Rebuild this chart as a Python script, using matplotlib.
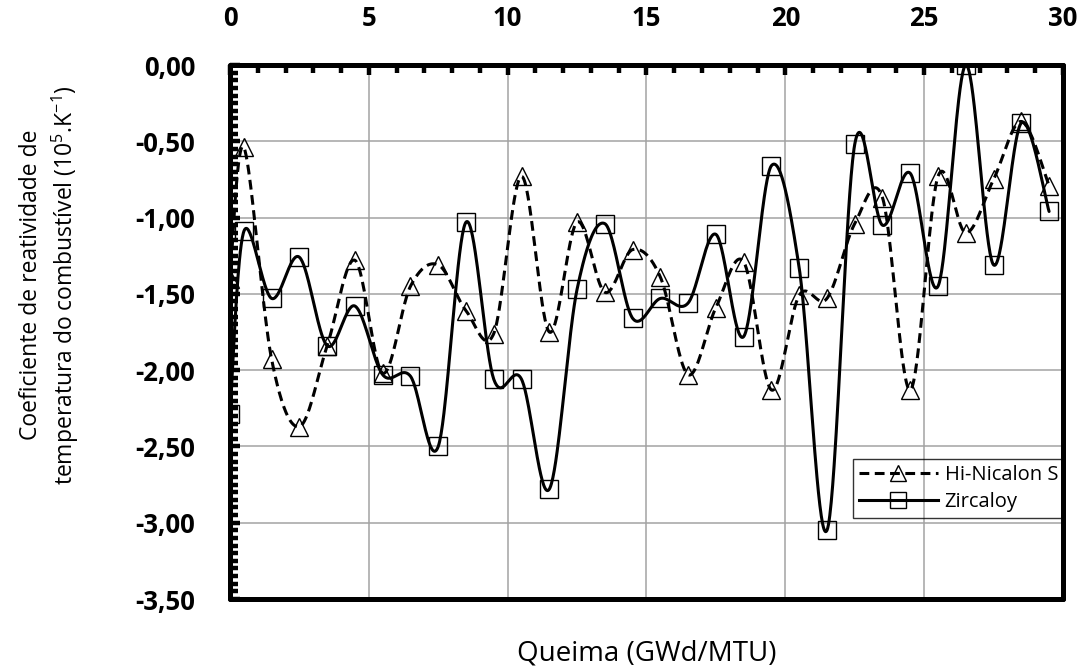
import matplotlib
matplotlib.use('Agg')
import matplotlib.pyplot as plt
import numpy as np
from matplotlib.lines import Line2D
from matplotlib.ticker import MultipleLocator, FuncFormatter

plt.rcParams['font.family'] = ['Open Sans', 'DejaVu Sans']
plt.rcParams['mathtext.fontset'] = 'custom'
plt.rcParams['mathtext.rm'] = 'Open Sans'

# queima (GWd/MTU) e coeficiente de reatividade (1e-5/K)
queima = [0, 0.5, 1.5, 2.5, 3.5, 4.5, 5.5, 6.5, 7.5, 8.5, 9.5, 10.5, 11.5,
          12.5, 13.5, 14.5, 15.5, 16.5, 17.5, 18.5, 19.5, 20.5, 21.5, 22.5,
          23.5, 24.5, 25.5, 26.5, 27.5, 28.5, 29.5]
hi_nicalon = [-1.40, -0.54, -1.93, -2.37, -1.84, -1.28, -2.02, -1.45, -1.31,
              -1.61, -1.76, -0.73, -1.75, -1.03, -1.49, -1.21, -1.39, -2.03,
              -1.59, -1.29, -2.13, -1.51, -1.53, -1.04, -0.87, -2.13, -0.73,
              -1.10, -0.75, -0.37, -0.79]
zircaloy = [-2.29, -1.09, -1.53, -1.26, -1.84, -1.58, -2.03, -2.04, -2.50,
            -1.03, -2.06, -2.06, -2.78, -1.47, -1.04, -1.66, -1.53, -1.56,
            -1.11, -1.78, -0.66, -1.33, -3.05, -0.52, -1.05, -0.71, -1.45,
            0.00, -1.31, -0.38, -0.96]
series_names = ['Hi-Nicalon S', 'Zircaloy']


def smooth(x, y, n=40):
    # bezier por segmento, pontos de controle a 1/6 dos vizinhos (estilo Excel)
    p = np.column_stack([x, y]).astype(float)
    out = []
    t = np.linspace(0, 1, n)[:, None]
    for i in range(len(p) - 1):
        p0 = p[i - 1] if i > 0 else p[i]
        p1, p2 = p[i], p[i + 1]
        p3 = p[i + 2] if i + 2 < len(p) else p[i + 1]
        c1 = p1 + (p2 - p0) / 6
        c2 = p2 - (p3 - p1) / 6
        b = ((1 - t) ** 3) * p1 + 3 * ((1 - t) ** 2) * t * c1 \
            + 3 * (1 - t) * t ** 2 * c2 + t ** 3 * p2
        out.append(b if i == 0 else b[1:])
    b = np.vstack(out)
    return b[:, 0], b[:, 1]


fig = plt.figure(figsize=(10.89, 6.66), dpi=100)
ax = fig.add_axes([0.2112, 0.1006, 0.7649, 0.8018])

lw = 2.2
ms = 12.5
sx, sy = smooth(queima, zircaloy)
ax.plot(sx, sy, color='black', lw=lw, solid_capstyle='round', zorder=3)
ax.plot(queima, zircaloy, ls='none', marker='s', ms=ms, mfc='none',
        mec='black', mew=1.0, zorder=4)

sx, sy = smooth(queima, hi_nicalon)
ax.plot(sx, sy, color='black', lw=lw, dashes=(3.2, 1.8), zorder=3)
ax.plot(queima, hi_nicalon, ls='none', marker='^', ms=ms, mfc='none',
        mec='black', mew=1.0, zorder=4)

ax.set_xlim(0, 30)
ax.set_ylim(-3.5, 0)
ax.xaxis.set_major_locator(MultipleLocator(5))
ax.xaxis.set_minor_locator(MultipleLocator(1))
ax.yaxis.set_major_locator(MultipleLocator(0.5))
ax.yaxis.set_minor_locator(MultipleLocator(0.05))
ax.yaxis.set_major_formatter(FuncFormatter(lambda v, p: f'{v:.2f}'.replace('.', ',').replace('-0,00', '0,00')))

ax.xaxis.tick_top()
ax.xaxis.set_label_position('bottom')
ax.tick_params(axis='x', which='both', top=True, bottom=False, labeltop=True,
               labelbottom=False, direction='in')
ax.tick_params(axis='y', which='both', left=True, right=False, direction='in')
ax.tick_params(which='major', length=7, width=3.2, labelsize=18.5)
ax.tick_params(axis='x', which='major', pad=24)
ax.tick_params(axis='y', which='major', pad=25)
ax.tick_params(which='minor', length=5.5, width=3.2)
for lab in ax.get_xticklabels() + ax.get_yticklabels():
    lab.set_fontweight('bold')

for s in ax.spines.values():
    s.set_linewidth(3.6)
    s.set_capstyle('round')

ax.grid(True, which='major', color='#a3a3a3', lw=1.1, zorder=0)
ax.set_axisbelow(True)

ax.set_xlabel('Queima (GWd/MTU)', fontsize=20, labelpad=29)
fig.text(50 / 1089, 1 - 285 / 666,
         'Coeficiente de reatividade de\n'
         'temperatura do combustível (10$^{5}$.K$^{-1}$)',
         rotation=90, ha='center', va='center', ma='center', fontsize=16.5,
         linespacing=1.3)

handles = [
    Line2D([], [], color='black', lw=lw, dashes=(3.2, 1.8), marker='^',
           ms=11, mfc='none', mec='black', mew=1.0),
    Line2D([], [], color='black', lw=lw, marker='s', ms=11, mfc='none',
           mec='black', mew=1.0),
]
leg = ax.legend(handles, series_names, loc='upper left',
                bbox_to_anchor=(0.748, 0.262), fontsize=14.5, handlelength=3.9,
                numpoints=1, fancybox=False, edgecolor='black',
                borderpad=0.3, labelspacing=0.35, handletextpad=0.35,
                borderaxespad=0)
leg.get_frame().set_facecolor('none')
leg.get_frame().set_linewidth(1.0)

fig.savefig('out.png', dpi=100)
